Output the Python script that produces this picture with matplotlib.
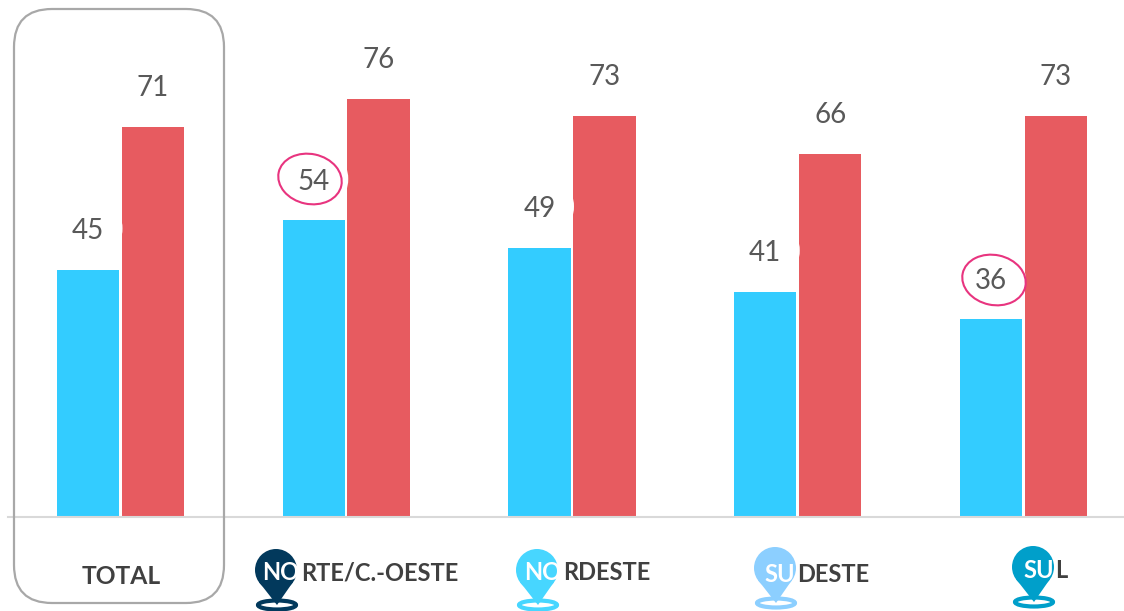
import matplotlib
matplotlib.use('Agg')
import matplotlib.pyplot as plt
from matplotlib.patches import Circle, Ellipse, FancyBboxPatch, Polygon
from matplotlib.transforms import Affine2D
import numpy as np

plt.rcParams['font.family'] = ['Lato', 'DejaVu Sans']

# data
groups = ['TOTAL', 'NORTE/C.-OESTE', 'NORDESTE', 'SUDESTE', 'SUL']
blue_vals = [45, 54, 49, 41, 36]
red_vals = [71, 76, 73, 66, 73]

# pin labels: white part on the pin, dark part after it
pin_heads = ['NO', 'NO', 'SU', 'SU']
pin_tails = ['RTE/C.-OESTE', 'RDESTE', 'DESTE', 'L']
pin_colors = ['#02395c', '#47d6ff', '#8ccfff', '#009fca']

W, H = 1124, 611
fig = plt.figure(figsize=(W / 100, H / 100), dpi=100)
ax = fig.add_axes([0, 0, 1, 1])

# 225.75 px between groups, 5.5 px per unit
ax.set_xlim(-120.5 / 225.75, (W - 120.5) / 225.75)
ax.set_ylim(-94 / 5.5, 517 / 5.5)
ax.axis('off')

# overlay shapes are placed in image pixels, y going down
px = Affine2D().scale(1, -1).translate(0, H)

x = np.arange(len(groups))
bw = 62.5 / 225.75
off = 32.5 / 225.75
ax.bar(x - off, blue_vals, width=bw, color='#33ccff', zorder=2)
ax.bar(x + off, red_vals, width=bw, color='#e75b60', zorder=2)

for i in x:
    # white label background bites a little into the red bar
    ax.add_patch(Ellipse((i - off, blue_vals[i] + 41 / 5.5), 69 / 225.75, 70 / 5.5,
                         fc='white', ec='none', zorder=2.5))
    ax.annotate(str(blue_vals[i]), (i - off, blue_vals[i]), xytext=(0, 27.5),
                textcoords='offset points', ha='center', va='center',
                fontsize=20, color='#595959', zorder=4)
    ax.annotate(str(red_vals[i]), (i + off, red_vals[i]), xytext=(0, 28),
                textcoords='offset points', ha='center', va='center',
                fontsize=20, color='#595959', zorder=4)

# baseline
ax.plot([8, W], [517, 517], transform=px, color='#d9d9d9', lw=1.5, zorder=3)

# box round TOTAL
box = FancyBboxPatch((14 + 38, 9 + 38), 210 - 76, 594 - 76,
                     boxstyle='round,pad=38,rounding_size=38', transform=px,
                     fc='none', ec='#a8a8a8', lw=1.6, zorder=3)
ax.add_patch(box)
ax.text(121.5, 577, groups[0], transform=px, ha='center', va='center',
        fontsize=17.7, fontweight='bold', color='#404040')

# pink rings
for cx, cy in [(310, 179), (994, 280)]:
    ax.add_patch(Ellipse((cx, cy), 64, 50, angle=12, transform=px, fc='none',
                         ec='#e8347f', lw=1.5, zorder=3))

# pins
pin_x = [276, 537, 775, 1033]
pin_y = [570, 570, 568, 567]
head_x = [262, 524, 764, 1023]
tail_x = [301, 563, 797, 1055]
text_y = [573, 572, 574, 570]
for k in range(4):
    cx, cy, c = pin_x[k], pin_y[k], pin_colors[k]
    ax.add_patch(Ellipse((cx + 1, cy + 35), 38, 9, transform=px, fc='white', ec=c, lw=3, zorder=5))
    ax.add_patch(Circle((cx, cy), 21, transform=px, fc=c, ec='none', zorder=6))
    ax.add_patch(Polygon([(cx - 17, cy + 12), (cx + 17, cy + 12), (cx + 1, cy + 35)],
                         transform=px, fc=c, ec='none', zorder=6))
    ax.text(head_x[k], text_y[k], pin_heads[k], transform=px, ha='left', va='center',
            fontsize=17, fontweight='bold', color='white', zorder=7)
    ax.text(tail_x[k], text_y[k], pin_tails[k], transform=px, ha='left', va='center',
            fontsize=17, fontweight='bold', color='#404040', zorder=7)

fig.savefig('out.png', dpi=100)
